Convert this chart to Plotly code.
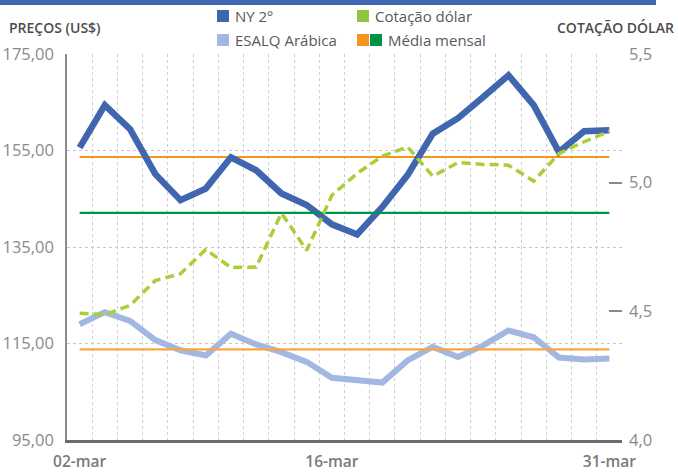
import plotly.graph_objects as go
import numpy as np

dates = ["02-mar", "03-mar", "04-mar", "05-mar", "06-mar", "09-mar", "10-mar", "11-mar",
         "12-mar", "13-mar", "16-mar", "17-mar", "18-mar", "19-mar", "20-mar", "23-mar",
         "24-mar", "25-mar", "26-mar", "27-mar", "30-mar", "31-mar"]
ny2 = [155.6, 164.4, 159.4, 150.1, 144.7, 147.1, 153.6, 150.9, 146.1, 143.7, 139.7,
       137.6, 143.3, 149.9, 158.5, 161.7, 166.1, 170.6, 164.4, 154.7, 159.0, 159.2]
esalq = [119.0, 121.5, 119.7, 115.7, 113.6, 112.5, 117.0, 114.8, 113.2, 111.2, 107.9,
         107.5, 106.9, 111.5, 114.3, 112.2, 114.6, 117.7, 116.3, 112.1, 111.7, 111.9]
dolar = [4.493, 4.487, 4.523, 4.620, 4.646, 4.740, 4.670, 4.672, 4.882, 4.737, 4.951,
         5.036, 5.103, 5.139, 5.025, 5.078, 5.071, 5.068, 5.006, 5.113, 5.159, 5.200]
shown_labels = ["02-mar", "16-mar", "31-mar"]
left_ticks = [95, 115, 135, 155, 175]
right_ticks = [4.0, 4.5, 5.0, 5.5]

x = list(range(len(dates)))
ny_mean = [float(np.mean(ny2))] * len(x)
esalq_mean = [float(np.mean(esalq))] * len(x)
dolar_mean = [float(np.mean(dolar))] * len(x)

C_NY = "#4166B0"
C_ES = "#A2B7E1"
C_DOL = "#A9CE3A"
C_OR = "#F7941D"
C_GR = "#00934A"

fig = go.Figure()
fig.add_trace(go.Scatter(x=x, y=esalq, mode="lines", line=dict(color=C_ES, width=6), showlegend=False))
fig.add_trace(go.Scatter(x=x, y=ny_mean, mode="lines", line=dict(color=C_OR, width=2.2), showlegend=False))
fig.add_trace(go.Scatter(x=x, y=esalq_mean, mode="lines", line=dict(color="#F9A640", width=2.2), showlegend=False))
fig.add_trace(go.Scatter(x=x, y=dolar_mean, mode="lines", yaxis="y2", line=dict(color=C_GR, width=2.2), showlegend=False))
fig.add_trace(go.Scatter(x=x, y=ny2, mode="lines", line=dict(color=C_NY, width=6.5), showlegend=False))
fig.add_trace(go.Scatter(x=x, y=dolar, mode="lines", yaxis="y2",
                         line=dict(color=C_DOL, width=3.5, dash="9px,5px"), showlegend=False))

L, T, W, H = 67, 54, 555, 386


def px(xp):
    return (xp - L) / W


def py(yp):
    return (T + H - yp) / H


shapes = [
    dict(type="rect", xref="paper", yref="paper", x0=px(0), x1=px(656), y0=py(5), y1=py(0),
         fillcolor=C_NY, line=dict(width=0)),
    dict(type="rect", xref="paper", yref="paper", x0=px(217), x1=px(229), y0=py(22), y1=py(10),
         fillcolor=C_NY, line=dict(width=0)),
    dict(type="rect", xref="paper", yref="paper", x0=px(357), x1=px(369), y0=py(22), y1=py(10),
         fillcolor="#8DC63F", line=dict(width=0)),
    dict(type="rect", xref="paper", yref="paper", x0=px(217), x1=px(229), y0=py(46), y1=py(34),
         fillcolor=C_ES, line=dict(width=0)),
    dict(type="rect", xref="paper", yref="paper", x0=px(357), x1=px(369), y0=py(46), y1=py(34),
         fillcolor=C_OR, line=dict(width=0)),
    dict(type="rect", xref="paper", yref="paper", x0=px(370), x1=px(382), y0=py(46), y1=py(34),
         fillcolor="#009245", line=dict(width=0)),
]

txt = "#595959"
fnt = "Open Sans"
annotations = [
    dict(text="NY 2º", x=px(233), y=py(16), xanchor="left", yanchor="middle"),
    dict(text="Cotação dólar", x=px(373), y=py(16), xanchor="left", yanchor="middle"),
    dict(text="ESALQ Arábica", x=px(233), y=py(40), xanchor="left", yanchor="middle"),
    dict(text="Média mensal", x=px(386), y=py(40), xanchor="left", yanchor="middle"),
    dict(text="PREÇOS (US$)", x=px(7), y=py(28), xanchor="left", yanchor="middle",
         font=dict(family=fnt, size=14, color="#4d4d4d", weight=600)),
    dict(text="COTAÇÃO DÓLAR", x=px(676), y=py(28), xanchor="right", yanchor="middle",
         font=dict(family=fnt, size=14, color="#4d4d4d", weight=600)),
]
for a in annotations:
    a.update(xref="paper", yref="paper", showarrow=False)
    a.setdefault("font", dict(family=fnt, size=15, color=txt))

fig.update_layout(
    width=678, height=474,
    margin=dict(l=L, r=678 - L - W, t=T, b=474 - T - H, autoexpand=False),
    paper_bgcolor="white", plot_bgcolor="white",
    separators=", ",
    font=dict(family=fnt),
    shapes=shapes, annotations=annotations,
    xaxis=dict(
        automargin=False,
        range=[-0.5, len(x) - 0.5],
        tickmode="array",
        tickvals=[dates.index(d) for d in shown_labels],
        ticktext=shown_labels,
        ticks="", showgrid=False, zeroline=False,
        showline=True, linecolor="#6b6b6b", linewidth=2.5,
        tickfont=dict(family=fnt, size=15.5, color="#7a7a7a", weight=600),
        ticklabelstandoff=6,
        minor=dict(tickmode="array", tickvals=[i - 0.5 for i in range(len(x) + 1)],
                   showgrid=True, griddash="dot", gridcolor="#cfcfcf", gridwidth=1, ticks=""),
    ),
    yaxis=dict(
        automargin=False,
        range=[95, 175], tickmode="array", tickvals=left_ticks, tickformat=".2f",
        showgrid=True, griddash="dot", gridcolor="#c8c8c8", gridwidth=1,
        zeroline=False, showline=True, linecolor="#8a8a8a", linewidth=1.5,
        ticks="", ticklabelstandoff=8,
        tickfont=dict(family=fnt, size=16.5, color="#8a8a8a"),
    ),
    yaxis2=dict(
        automargin=False,
        range=[4.0, 5.5], tickmode="array", tickvals=right_ticks, tickformat=".1f",
        overlaying="y", side="right", showgrid=False, zeroline=False, showline=False,
        ticks="inside", ticklen=13, tickcolor="#8a8a8a", tickwidth=1.5,
        ticklabelstandoff=6,
        tickfont=dict(family=fnt, size=16.5, color="#8a8a8a"),
    ),
)

fig.write_html("out.html", config={"displayModeBar": False})

with open("out.html", "r", encoding="utf-8") as f:
    html = f.read()
html = html.replace("<head>", "<head><style>html,body{margin:0;padding:0;overflow:hidden;}</style>", 1)
with open("out.html", "w", encoding="utf-8") as f:
    f.write(html)
